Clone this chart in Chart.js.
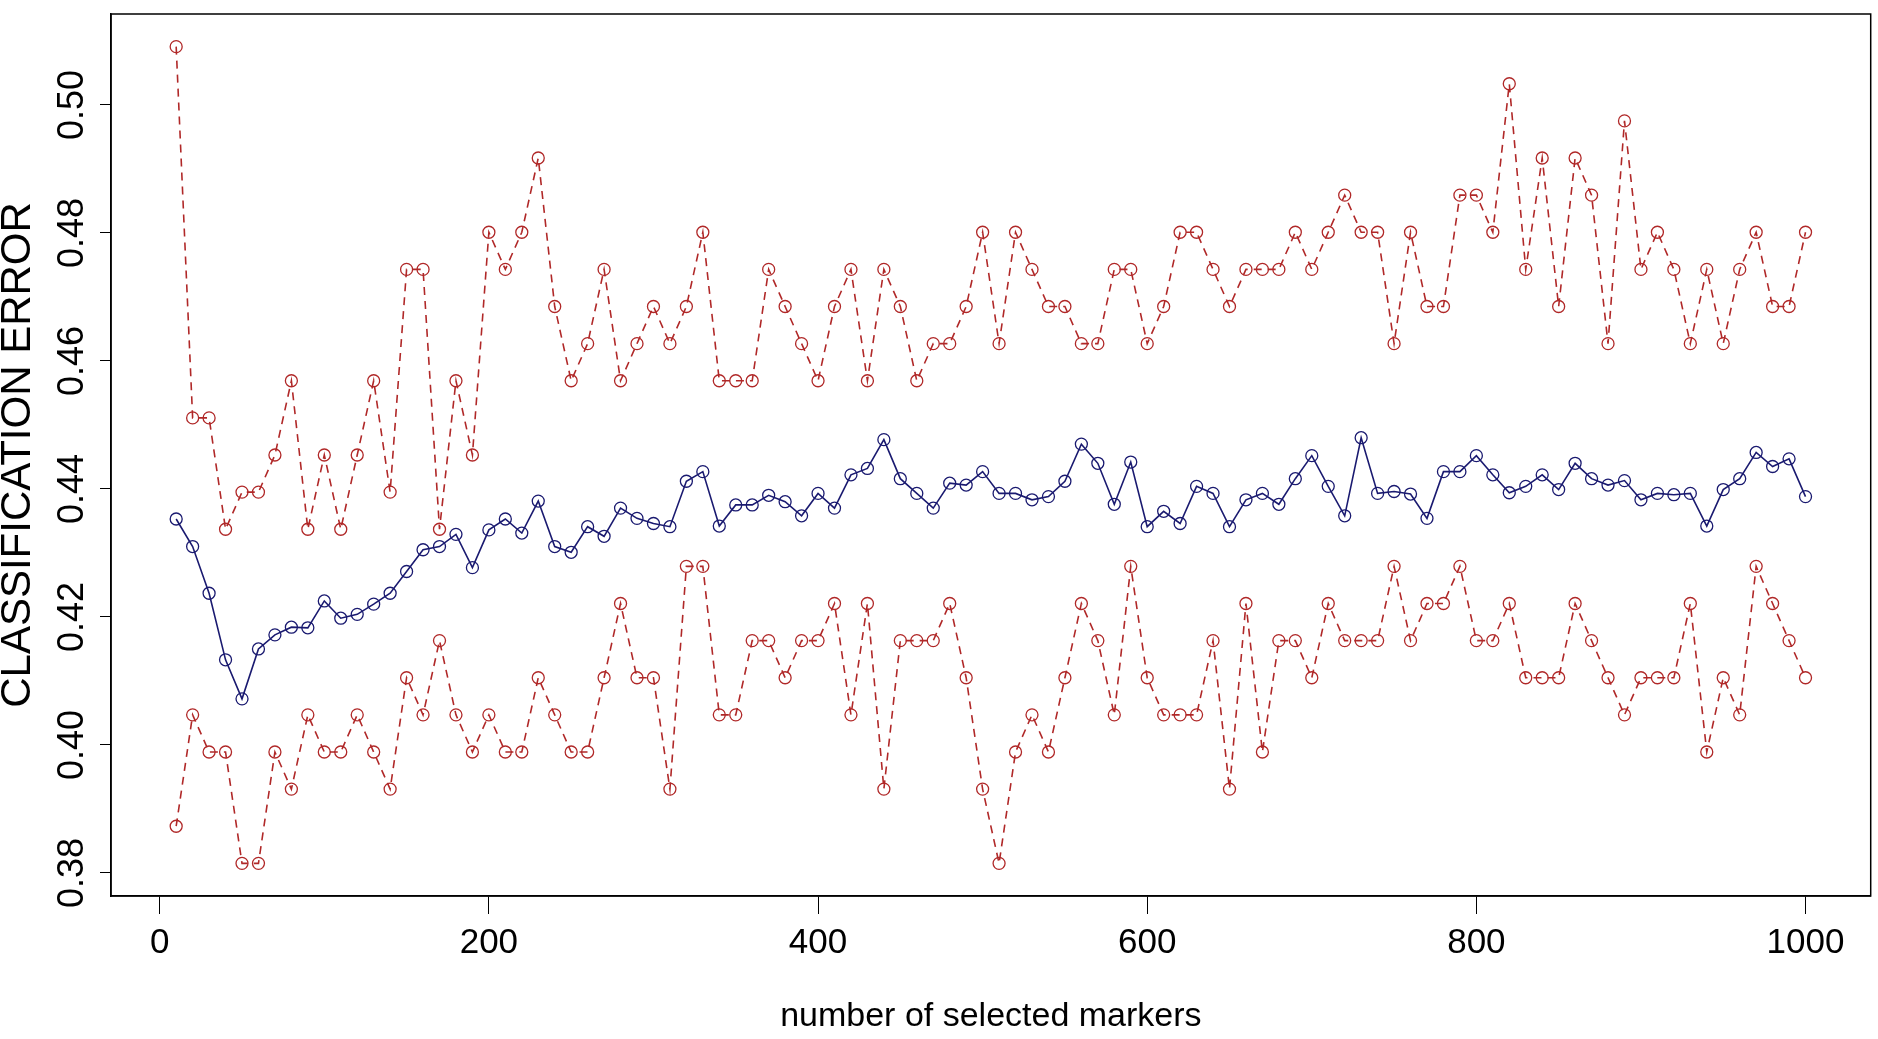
<!DOCTYPE html>
<html lang="en">
<head>
  <meta charset="utf-8"/>
  <title>Classification error vs number of selected markers</title>
  <script src="https://cdn.jsdelivr.net/npm/chart.js"></script>
  <style>
    html, body { margin: 0; padding: 0; background: #fff; }
    #wrap { width: 1878px; height: 1039px; position: relative; }
  </style>
</head>
<body>
<div id="wrap"><canvas id="errChart"></canvas></div>
<script>
  // number of selected markers (x)
  const markers = [
    10, 20, 30, 40, 50, 60, 70, 80, 90, 100,
    110, 120, 130, 140, 150, 160, 170, 180, 190, 200,
    210, 220, 230, 240, 250, 260, 270, 280, 290, 300,
    310, 320, 330, 340, 350, 360, 370, 380, 390, 400,
    410, 420, 430, 440, 450, 460, 470, 480, 490, 500,
    510, 520, 530, 540, 550, 560, 570, 580, 590, 600,
    610, 620, 630, 640, 650, 660, 670, 680, 690, 700,
    710, 720, 730, 740, 750, 760, 770, 780, 790, 800,
    810, 820, 830, 840, 850, 860, 870, 880, 890, 900,
    910, 920, 930, 940, 950, 960, 970, 980, 990, 1000
  ];

  // upper band (red dashed)
  const upperError = [
    0.5091, 0.4511, 0.4511, 0.4337, 0.4395, 0.4395, 0.4453, 0.4569, 0.4337, 0.4453,
    0.4337, 0.4453, 0.4569, 0.4395, 0.4743, 0.4743, 0.4337, 0.4569, 0.4453, 0.4801,
    0.4743, 0.4801, 0.4917, 0.4685, 0.4569, 0.4627, 0.4743, 0.4569, 0.4627, 0.4685,
    0.4627, 0.4685, 0.4801, 0.4569, 0.4569, 0.4569, 0.4743, 0.4685, 0.4627, 0.4569,
    0.4685, 0.4743, 0.4569, 0.4743, 0.4685, 0.4569, 0.4627, 0.4627, 0.4685, 0.4801,
    0.4627, 0.4801, 0.4743, 0.4685, 0.4685, 0.4627, 0.4627, 0.4743, 0.4743, 0.4627,
    0.4685, 0.4801, 0.4801, 0.4743, 0.4685, 0.4743, 0.4743, 0.4743, 0.4801, 0.4743,
    0.4801, 0.4859, 0.4801, 0.4801, 0.4627, 0.4801, 0.4685, 0.4685, 0.4859, 0.4859,
    0.4801, 0.5033, 0.4743, 0.4917, 0.4685, 0.4917, 0.4859, 0.4627, 0.4975, 0.4743,
    0.4801, 0.4743, 0.4627, 0.4743, 0.4627, 0.4743, 0.4801, 0.4685, 0.4685, 0.4801
  ];

  // mean error (blue solid)
  const meanError = [
    0.4353, 0.4310, 0.4237, 0.4133, 0.4072, 0.4150, 0.4172, 0.4184, 0.4183, 0.4225,
    0.4198, 0.4204, 0.4220, 0.4237, 0.4271, 0.4305, 0.4310, 0.4329, 0.4277, 0.4336,
    0.4353, 0.4331, 0.4381, 0.4310, 0.4301, 0.4341, 0.4326, 0.4370, 0.4354, 0.4346,
    0.4341, 0.4412, 0.4427, 0.4342, 0.4375, 0.4375, 0.4390, 0.4380, 0.4358, 0.4393,
    0.4370, 0.4422, 0.4432, 0.4477, 0.4416, 0.4393, 0.4370, 0.4409, 0.4406, 0.4427,
    0.4393, 0.4393, 0.4383, 0.4388, 0.4412, 0.4470, 0.4440, 0.4376, 0.4442, 0.4341,
    0.4365, 0.4346, 0.4404, 0.4393, 0.4341, 0.4383, 0.4393, 0.4376, 0.4416, 0.4452,
    0.4404, 0.4358, 0.4480, 0.4393, 0.4396, 0.4392, 0.4354, 0.4427, 0.4427, 0.4452,
    0.4422, 0.4394, 0.4404, 0.4422, 0.4399, 0.4440, 0.4416, 0.4406, 0.4413, 0.4383,
    0.4393, 0.4391, 0.4393, 0.4342, 0.4399, 0.4416, 0.4457, 0.4435, 0.4447, 0.4388
  ];

  // lower band (red dashed)
  const lowerError = [
    0.3873, 0.4047, 0.3989, 0.3989, 0.3815, 0.3815, 0.3989, 0.3931, 0.4047, 0.3989,
    0.3989, 0.4047, 0.3989, 0.3931, 0.4105, 0.4047, 0.4163, 0.4047, 0.3989, 0.4047,
    0.3989, 0.3989, 0.4105, 0.4047, 0.3989, 0.3989, 0.4105, 0.4221, 0.4105, 0.4105,
    0.3931, 0.4279, 0.4279, 0.4047, 0.4047, 0.4163, 0.4163, 0.4105, 0.4163, 0.4163,
    0.4221, 0.4047, 0.4221, 0.3931, 0.4163, 0.4163, 0.4163, 0.4221, 0.4105, 0.3931,
    0.3815, 0.3989, 0.4047, 0.3989, 0.4105, 0.4221, 0.4163, 0.4047, 0.4279, 0.4105,
    0.4047, 0.4047, 0.4047, 0.4163, 0.3931, 0.4221, 0.3989, 0.4163, 0.4163, 0.4105,
    0.4221, 0.4163, 0.4163, 0.4163, 0.4279, 0.4163, 0.4221, 0.4221, 0.4279, 0.4163,
    0.4163, 0.4221, 0.4105, 0.4105, 0.4105, 0.4221, 0.4163, 0.4105, 0.4047, 0.4105,
    0.4105, 0.4105, 0.4221, 0.3989, 0.4105, 0.4047, 0.4279, 0.4221, 0.4163, 0.4105
  ];

  const xTicks = [0, 200, 400, 600, 800, 1000];
  const yTicks = [0.38, 0.40, 0.42, 0.44, 0.46, 0.48, 0.50];

  const RED = '#b02828';
  const BLUE = '#1a1a70';
  const FONT = '"Liberation Sans", Arial, sans-serif';

  const toPoints = vals => markers.map((m, i) => ({ x: m, y: vals[i] }));

  function series(vals, color, dash) {
    return {
      data: toPoints(vals),
      borderColor: color,
      borderWidth: 1.6,
      borderDash: dash,
      pointRadius: 6,
      pointBorderColor: color,
      pointBorderWidth: 1.3,
      pointBackgroundColor: 'rgba(0,0,0,0)',
      tension: 0,
      fill: false
    };
  }

  // box round the plot and the rotated y tick labels, R style
  const rFrame = {
    id: 'rFrame',
    afterDraw(chart) {
      const { ctx, chartArea: a, scales } = chart;
      ctx.save();
      ctx.strokeStyle = '#000';
      ctx.lineWidth = 1.5;
      ctx.strokeRect(a.left, a.top, a.right - a.left, a.bottom - a.top);

      ctx.fillStyle = '#000';
      ctx.font = '36px ' + FONT;
      ctx.textAlign = 'center';
      ctx.textBaseline = 'middle';
      yTicks.forEach(v => {
        const py = scales.y.getPixelForValue(v);
        ctx.save();
        ctx.translate(73, py);
        ctx.rotate(-Math.PI / 2);
        ctx.fillText(v.toFixed(2), 0, 0);
        ctx.restore();
      });
      ctx.restore();
    }
  };

  new Chart(document.getElementById('errChart'), {
    type: 'line',
    data: {
      datasets: [
        series(upperError, RED, [8, 6]),
        series(meanError, BLUE, []),
        series(lowerError, RED, [8, 6])
      ]
    },
    options: {
      responsive: true,
      maintainAspectRatio: false,
      animation: false,
      layout: { padding: { top: 14, right: 4, left: 0, bottom: 0 } },
      plugins: { legend: { display: false }, tooltip: { enabled: false } },
      scales: {
        x: {
          type: 'linear',
          min: -29.6,
          max: 1039.6,
          afterBuildTicks: s => { s.ticks = xTicks.map(v => ({ value: v })); },
          afterFit: s => { s.height = 143; },
          grid: { drawOnChartArea: false, drawTicks: true, tickLength: 18, color: '#000', lineWidth: 1 },
          border: { display: true, color: '#000', width: 1.5 },
          ticks: {
            color: '#000',
            font: { size: 35, family: FONT },
            padding: 8,
            maxRotation: 0,
            autoSkip: false,
            callback: v => String(v)
          },
          title: {
            display: true,
            text: 'number of selected markers',
            color: '#000',
            font: { size: 34, family: FONT },
            padding: { top: 0, bottom: 2 }
          }
        },
        y: {
          type: 'linear',
          min: 0.3764,
          max: 0.5142,
          afterBuildTicks: s => { s.ticks = yTicks.map(v => ({ value: v })); },
          afterFit: s => { s.width = 111; },
          grid: { drawOnChartArea: false, drawTicks: true, tickLength: 11, color: '#000', lineWidth: 1 },
          border: { display: true, color: '#000', width: 1.5 },
          ticks: { display: false },
          title: {
            display: true,
            text: 'CLASSIFICATION ERROR',
            color: '#000',
            font: { size: 42, family: FONT, lineHeight: 0.9 },
            padding: 0
          }
        }
      }
    },
    plugins: [rFrame]
  });
</script>
</body>
</html>
